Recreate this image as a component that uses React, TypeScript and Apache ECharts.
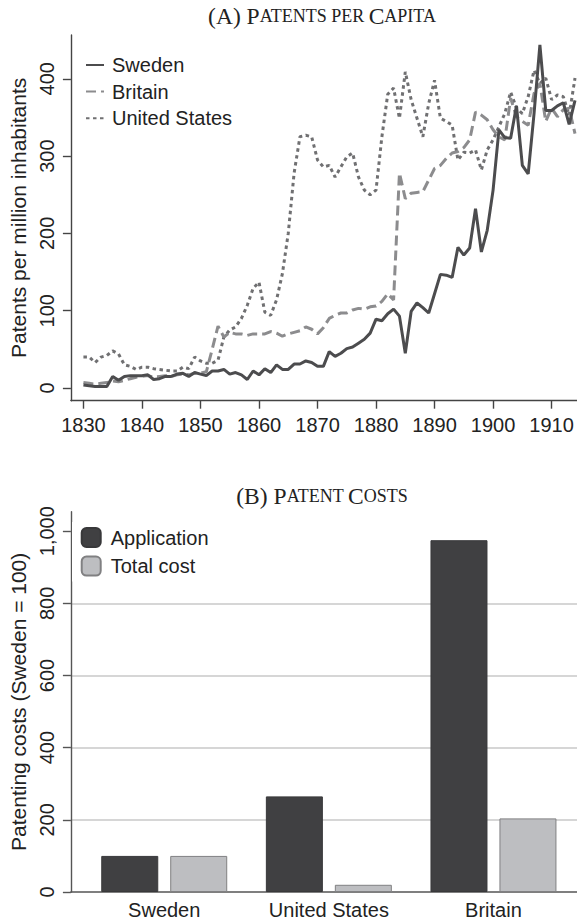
import React, { useEffect, useRef } from 'react';
import * as echarts from 'echarts';

const years = [
  1830, 1831, 1832, 1833, 1834, 1835, 1836, 1837, 1838, 1839,
  1840, 1841, 1842, 1843, 1844, 1845, 1846, 1847, 1848, 1849,
  1850, 1851, 1852, 1853, 1854, 1855, 1856, 1857, 1858, 1859,
  1860, 1861, 1862, 1863, 1864, 1865, 1866, 1867, 1868, 1869,
  1870, 1871, 1872, 1873, 1874, 1875, 1876, 1877, 1878, 1879,
  1880, 1881, 1882, 1883, 1884, 1885, 1886, 1887, 1888, 1889,
  1890, 1891, 1892, 1893, 1894, 1895, 1896, 1897, 1898, 1899,
  1900, 1901, 1902, 1903, 1904, 1905, 1906, 1907, 1908, 1909,
  1910, 1911, 1912, 1913, 1914,
];

const sweden = [
  4, 3, 2, 2, 2, 15, 10, 15, 16, 16,
  16, 17, 11, 12, 15, 15, 18, 19, 15, 20,
  18, 16, 22, 22, 24, 18, 20, 17, 11, 22,
  17, 25, 20, 30, 24, 24, 31, 31, 35, 33,
  28, 28, 47, 41, 45, 51, 53, 58, 63, 71,
  89, 87, 96, 102, 93, 45, 99, 110, 104, 97,
  122, 147, 146, 143, 182, 172, 181, 232, 176, 204,
  256, 334, 324, 323, 365, 288, 277, 355, 444, 359,
  359, 365, 369, 341, 372,
];

const britain = [
  7, 6, 5, 6, 7, 9, 8, 10, 12, 14,
  15, 16, 14, 15, 16, 15, 17, 18, 17, 19,
  19, 21, 50, 80, 66, 72, 70, 70, 68, 70,
  70, 70, 73, 71, 67, 70, 72, 74, 79, 76,
  70, 78, 90, 94, 97, 97, 101, 103, 102, 105,
  106, 112, 122, 114, 278, 245, 252, 253, 254, 269,
  284, 288, 297, 304, 306, 311, 321, 357, 353, 347,
  334, 325, 321, 375, 351, 345, 340, 381, 394, 345,
  362, 351, 360, 362, 329,
];

const unitedStates = [
  40, 40, 33, 40, 42, 48, 44, 30, 28, 24,
  27, 27, 25, 24, 23, 22, 22, 27, 25, 40,
  35, 32, 32, 36, 66, 75, 79, 90, 107, 129,
  137, 98, 94, 114, 148, 200, 278, 325, 327, 325,
  295, 286, 288, 273, 286, 299, 304, 273, 256, 250,
  256, 325, 380, 388, 349, 409, 373, 349, 325, 368,
  398, 349, 345, 340, 295, 305, 304, 308, 282, 308,
  321, 338, 355, 383, 362, 355, 377, 411, 394, 401,
  373, 379, 377, 353, 401,
];

const yearTicks = [1830, 1840, 1850, 1860, 1870, 1880, 1890, 1900, 1910];
const perCapitaTicks = [0, 100, 200, 300, 400];

const countries = ['Sweden', 'United States', 'Britain'];
const applicationCost = [100, 265, 975];
const totalCost = [100, 20, 204];
const costTicks = [0, 200, 400, 600, 800, 1000];

const SANS = 'Liberation Sans';
const SERIF = 'Liberation Serif';
const TXT = '#222';
const FS = 20;
const NAME_FS = 21;

function pair(xs: number[], ys: number[]) {
  return xs.map((x, i) => [x, ys[i]]);
}

export default function App() {
  const ref = useRef<HTMLDivElement>(null);

  useEffect(() => {
    document.body.style.margin = '0';
    const chart = echarts.init(ref.current!, undefined, { renderer: 'svg' });
    const titleRich = {
      l: { fontFamily: SERIF, fontSize: 23.5, fontWeight: 'normal', color: TXT },
      s: { fontFamily: SERIF, fontSize: 18, fontWeight: 'normal', color: TXT },
    };
    const option: any = {
      animation: false,
      textStyle: { fontFamily: SANS },
      title: [
        {
          text: '{l|(A) P}{s|ATENTS PER }{l|C}{s|APITA}',
          left: 317,
          top: -1,
          textAlign: 'center',
          textStyle: { fontWeight: 'normal', rich: titleRich },
        },
        {
          text: '{l|(B) P}{s|ATENT }{l|C}{s|OSTS}',
          left: 317,
          top: 479,
          textAlign: 'center',
          textStyle: { fontWeight: 'normal', rich: titleRich },
        },
      ],
      grid: [
        { left: 65, right: 0, top: 35, height: 365.7 },
        { left: 65.7, right: 0, top: 511.7, height: 381 },
      ],
      legend: [
        {
          orient: 'vertical',
          left: 80,
          top: 50,
          itemWidth: 18,
          itemHeight: 12,
          itemGap: 6.6,
          data: ['Sweden', 'Britain', 'United States'],
          itemStyle: { opacity: 0 },
          textStyle: { fontSize: FS, color: TXT, lineHeight: 20, padding: [0, 0, 0, 3] },
        },
        {
          orient: 'vertical',
          left: 72,
          top: 522,
          padding: [5, 14, 5, 8.7],
          backgroundColor: '#fff',
          itemWidth: 19,
          itemHeight: 19,
          itemGap: 7.6,
          data: ['Application', 'Total cost'],
          textStyle: { fontSize: FS, color: TXT, padding: [0, 0, 0, 5] },
        },
      ],
      xAxis: [
        {
          gridIndex: 0,
          type: 'value',
          min: 1827.86,
          max: 1914.34,
          axisLine: { onZero: false, lineStyle: { color: '#444', width: 1.4 } },
          axisTick: { customValues: yearTicks, length: 8, lineStyle: { color: '#444', width: 1.4 } },
          axisLabel: {
            customValues: yearTicks,
            formatter: (v: number) => String(v),
            margin: 14,
            fontSize: FS,
            color: TXT,
            fontFamily: SANS,
          },
          splitLine: { show: false },
        },
        {
          gridIndex: 1,
          type: 'value',
          min: 0.433,
          max: 3.5075,
          axisLine: { onZero: false, lineStyle: { color: '#555', width: 1.5 } },
          axisTick: { show: false },
          axisLabel: {
            customValues: [1, 2, 3],
            formatter: (v: number) => countries[Math.round(v) - 1] ?? '',
            margin: 8,
            fontSize: FS,
            color: TXT,
            fontFamily: SANS,
          },
          splitLine: { show: false },
        },
      ],
      yAxis: [
        {
          gridIndex: 0,
          type: 'value',
          min: -16.43,
          max: 456.66,
          name: 'Patents per million inhabitants',
          nameLocation: 'middle',
          nameRotate: 90,
          nameGap: 36,
          nameTextStyle: { fontSize: NAME_FS, color: TXT, fontFamily: SANS },
          axisLine: { show: true, onZero: false, lineStyle: { color: '#444', width: 1.4 } },
          axisTick: { show: true, customValues: perCapitaTicks, length: 8, lineStyle: { color: '#444', width: 1.4 } },
          axisLabel: { customValues: perCapitaTicks, rotate: 90, margin: 14, fontSize: FS, color: TXT, fontFamily: SANS },
          splitLine: { show: false },
        },
        {
          gridIndex: 1,
          type: 'value',
          min: 0,
          max: 1054,
          name: 'Patenting costs (Sweden = 100)',
          nameLocation: 'middle',
          nameRotate: 90,
          nameGap: 36,
          nameTextStyle: { fontSize: NAME_FS, color: TXT, fontFamily: SANS },
          axisLine: { show: true, onZero: false, lineStyle: { color: '#555', width: 1.4 } },
          axisTick: { show: true, customValues: costTicks, length: 8, lineStyle: { color: '#555', width: 1.4 } },
          axisLabel: {
            customValues: costTicks,
            rotate: 90,
            margin: 14,
            fontSize: FS,
            color: TXT,
            fontFamily: SANS,
            formatter: (v: number) => v.toLocaleString('en-US'),
          },
          splitLine: {
            show: true,
            showMaxLine: false,
            showMinLine: false,
            lineStyle: { color: '#c8c8c8', width: 1.5 },
          },
        },
      ],
      series: [
        {
          name: 'Sweden',
          type: 'line',
          xAxisIndex: 0,
          yAxisIndex: 0,
          data: pair(years, sweden),
          symbol: 'none',
          z: 4,
          lineStyle: { color: '#4c4c4e', width: 3, type: 'solid' },
          itemStyle: { color: '#4c4c4e' },
        },
        {
          name: 'Britain',
          type: 'line',
          xAxisIndex: 0,
          yAxisIndex: 0,
          data: pair(years, britain),
          symbol: 'none',
          z: 3,
          lineStyle: { color: '#8c8c8e', width: 3, type: [10, 5] },
          itemStyle: { color: '#8c8c8e' },
        },
        {
          name: 'United States',
          type: 'line',
          xAxisIndex: 0,
          yAxisIndex: 0,
          data: pair(years, unitedStates),
          symbol: 'none',
          z: 2,
          lineStyle: { color: '#707072', width: 3, type: [3.5, 3.5] },
          itemStyle: { color: '#707072' },
        },
        {
          name: 'Application',
          type: 'bar',
          xAxisIndex: 1,
          yAxisIndex: 1,
          data: pair([1, 2, 3], applicationCost),
          barWidth: 57,
          barGap: '21%',
          itemStyle: { color: '#404042', borderColor: '#38383a', borderWidth: 1 },
        },
        {
          name: 'Total cost',
          type: 'bar',
          xAxisIndex: 1,
          yAxisIndex: 1,
          data: pair([1, 2, 3], totalCost),
          barWidth: 57,
          barGap: '21%',
          itemStyle: { color: '#bdbec1', borderColor: '#808082', borderWidth: 1 },
        },
      ],
    };
    chart.setOption(option);
    return () => chart.dispose();
  }, []);

  return <div ref={ref} style={{ width: 577, height: 920 }} />;
}
